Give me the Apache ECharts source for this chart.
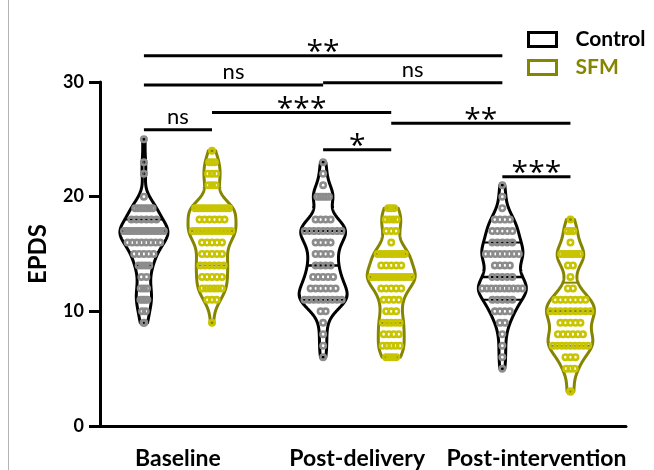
<!DOCTYPE html>
<html><head><meta charset="utf-8">
<script src="https://cdn.jsdelivr.net/npm/echarts@6/dist/echarts.min.js"></script>
<style>html,body{margin:0;padding:0;background:#fff}#c{width:654px;height:470px}</style>
</head><body><div id="c"></div>
<script>
// ---------------- data ----------------
const categories = ['Baseline', 'Post-delivery', 'Post-intervention'];
const groups = ['Control', 'SFM'];
const yTicks = [0, 10, 20, 30];

// EPDS score levels and number of participants at each level
const controlBaselineScores = [9,10,11,12,13,14,15,16,17,18,19,20,22,23,25];
const controlBaselineCounts = [2,2,4,3,2,4,5,8,14,6,7,1,1,1,1];
const controlDeliveryScores = [6,7,8,9,10,11,12,13,14,15,16,17,18,20,21,22,23];
const controlDeliveryCounts = [1,1,1,1,2,9,6,5,4,4,4,9,4,5,1,1,1];
const controlInterventionScores = [5,6,7,8,9,10,11,12,13,14,15,16,17,18,19,20,21];
const controlInterventionCounts = [1,1,1,1,2,4,5,10,5,4,8,5,5,4,1,1,1];
const sfmBaselineScores = [9,11,12,13,14,15,16,17,18,19,21,22,23,24];
const sfmBaselineCounts = [1,3,6,5,6,5,5,11,6,12,3,3,3,1];
const sfmDeliveryScores = [6,7,8,9,10,11,12,13,14,15,16,17,18,19];
const sfmDeliveryCounts = [4,5,4,5,3,4,5,12,5,9,1,3,4,3];
const sfmInterventionScores = [3,5,6,7,8,9,10,11,12,13,14,15,16,17,18];
const sfmInterventionCounts = [2,3,3,9,6,5,9,7,2,1,2,7,1,3,1];

// significance brackets: [category, group] endpoints, EPDS level, label
const bracketFromCat = [0, 0, 1, 0, 0, 1, 1, 2];
const bracketFromGrp = [0, 0, 0, 1, 0, 1, 0, 0];
const bracketToCat   = [2, 1, 2, 1, 0, 2, 1, 2];
const bracketToGrp   = [0, 0, 0, 1, 1, 1, 1, 1];
const bracketLevel   = [32.3, 29.74, 29.94, 27.33, 25.83, 26.41, 24.09, 21.74];
const bracketLabel   = ['**', 'ns', 'ns', '***', 'ns', '**', '*', '***'];

// ---------------- styles / layout ----------------
const groupOffset = [-0.19, 0.19];
const lineColor = ['#000000', '#858500'];
const dotColor = ['#8c8c8c', '#c8c400'];
const legendTextColor = ['#000000', '#858500'];
const violinHalfWidth = 24;
const bandwidth = 0.9;
const maxDotSpacing = 5;
const dotR = 2.7, dotLW = 2.6;
const FONT = 'Lato, "Open Sans", sans-serif';
const STAR_FONT = '"Open Sans", Lato, sans-serif';

const table = [
  [[controlBaselineScores, controlBaselineCounts], [controlDeliveryScores, controlDeliveryCounts], [controlInterventionScores, controlInterventionCounts]],
  [[sfmBaselineScores, sfmBaselineCounts], [sfmDeliveryScores, sfmDeliveryCounts], [sfmInterventionScores, sfmInterventionCounts]]
];

function quantile(scores, counts, p) {
  const arr = [];
  scores.forEach((s, i) => { for (let k = 0; k < counts[i]; k++) arr.push(s); });
  const pos = p * (arr.length + 1) - 1;
  const lo = Math.max(0, Math.min(arr.length - 1, Math.floor(pos)));
  const hi = Math.max(0, Math.min(arr.length - 1, Math.ceil(pos)));
  return arr[lo] + (arr[hi] - arr[lo]) * (pos - Math.floor(pos));
}

const violins = table.map(gr => gr.map(([scores, counts]) => {
  const dens = y => { let s = 0; for (let i = 0; i < scores.length; i++) s += counts[i] * Math.exp(-0.5 * Math.pow((y - scores[i]) / bandwidth, 2)); return s; };
  const min = Math.min(...scores), max = Math.max(...scores);
  let dmax = 0;
  for (let y = min; y <= max + 1e-9; y += 0.05) dmax = Math.max(dmax, dens(y));
  return {
    scores, counts, min, max,
    hw: y => violinHalfWidth * dens(y) / dmax,
    quart: [quantile(scores, counts, 0.25), quantile(scores, counts, 0.5), quantile(scores, counts, 0.75)]
  };
}));

function violinSeries(g) {
  return {
    type: 'custom', name: groups[g], z: 2, clip: false,
    itemStyle: { color: '#fff', borderColor: lineColor[g] },
    data: categories.map((c, ci) => [ci + 1 + groupOffset[g], ci]),
    renderItem(params, api) {
      const ci = api.value(1);
      const v = violins[g][ci];
      const x = api.value(0);
      const right = [], left = [];
      for (let y = v.min; y <= v.max + 1e-9; y += 0.05) {
        const p = api.coord([x, y]);
        const hw = v.hw(y);
        right.push([p[0] + hw, p[1]]);
        left.push([p[0] - hw, p[1]]);
      }
      const children = [{
        type: 'polygon', shape: { points: right.concat(left.reverse()) },
        style: { fill: '#fff', stroke: lineColor[g], lineWidth: 3, lineJoin: 'round' }
      }];
      v.quart.forEach((q, qi) => {
        const p = api.coord([x, q]);
        const hw = v.hw(q);
        children.push({
          type: 'line', shape: { x1: p[0] - hw, y1: p[1], x2: p[0] + hw, y2: p[1] },
          style: { stroke: lineColor[g], lineWidth: qi === 1 ? 2.5 : 2 }
        });
      });
      return { type: 'group', children };
    }
  };
}

function dotSeries(g) {
  const data = [];
  categories.forEach((c, ci) => {
    const [scores, counts] = table[g][ci];
    scores.forEach((s, i) => data.push([ci + 1 + groupOffset[g], s, counts[i], ci]));
  });
  return {
    type: 'custom', name: groups[g] + ' points', z: 3, clip: false, data,
    renderItem(params, api) {
      const x = api.value(0), s = api.value(1), n = api.value(2), ci = api.value(3);
      const v = violins[g][ci];
      const p = api.coord([x, s]);
      const avail = 2 * v.hw(s) - 2 * (dotR + dotLW / 2);
      const sp = n > 1 ? Math.max(0.8, Math.min(maxDotSpacing, avail / (n - 1))) : 0;
      const children = [];
      for (let k = 0; k < n; k++) {
        children.push({
          type: 'circle', shape: { cx: p[0] + (k - (n - 1) / 2) * sp, cy: p[1], r: dotR },
          style: { fill: 'none', stroke: dotColor[g], lineWidth: dotLW }
        });
      }
      return { type: 'group', children };
    }
  };
}

const bracketSeries = {
  type: 'custom', name: 'significance', z: 4, clip: false, silent: true,
  data: bracketLabel.map((l, i) => [
    bracketFromCat[i] + 1 + groupOffset[bracketFromGrp[i]],
    bracketToCat[i] + 1 + groupOffset[bracketToGrp[i]],
    bracketLevel[i], i]),
  renderItem(params, api) {
    const a = api.coord([api.value(0), api.value(2)]);
    const b = api.coord([api.value(1), api.value(2)]);
    const label = bracketLabel[api.value(3)];
    const star = label !== 'ns';
    return {
      type: 'group', children: [
        { type: 'line', shape: { x1: a[0], y1: a[1], x2: b[0], y2: b[1] }, style: { stroke: '#000', lineWidth: 3 } },
        { type: 'text', style: {
            text: label, x: (a[0] + b[0]) / 2, y: a[1] - (star ? 3 : 13),
            align: 'center', verticalAlign: 'middle',
            fontSize: star ? 30 : 22, fontFamily: star ? STAR_FONT : FONT, fill: '#000' } }
      ]
    };
  }
};

const chart = echarts.init(document.getElementById('c'), null, { renderer: 'canvas' });
chart.setOption({
  animation: false,
  backgroundColor: '#fff',
  grid: { left: 100, right: 28, top: 82, bottom: 43 },
  legend: {
    orient: 'vertical', left: 522, top: 24, itemWidth: 28, itemHeight: 14, itemGap: 7,
    icon: 'rect', selectedMode: false,
    textStyle: { fontFamily: FONT, fontWeight: 'bold', fontSize: 21, lineHeight: 20, padding: [0, 0, 0, 14] },
    data: groups.map((name, g) => ({
      name,
      itemStyle: { color: 'rgba(0,0,0,0)', borderColor: lineColor[g], borderWidth: 3 },
      textStyle: { color: legendTextColor[g] }
    }))
  },
  xAxis: {
    type: 'value', min: 0.565, max: 3.5,
    splitLine: { show: false },
    axisLine: { show: true, lineStyle: { color: '#000', width: 3 } },
    axisTick: { show: false },
    axisLabel: {
      customValues: [1, 2, 3],
      formatter: v => categories[Math.round(v) - 1] || '',
      fontFamily: FONT, fontWeight: 'bold', fontSize: 23, color: '#000', margin: 21
    }
  },
  yAxis: {
    type: 'value', min: 0, max: 30, interval: 10,
    name: 'EPDS', nameLocation: 'middle', nameGap: 50,
    nameTextStyle: { fontFamily: FONT, fontWeight: 'bold', fontSize: 24, color: '#000' },
    splitLine: { show: false },
    axisLine: { show: true, lineStyle: { color: '#000', width: 3 } },
    axisTick: { show: true, length: 11, lineStyle: { color: '#000', width: 3 } },
    axisLabel: {
      formatter: v => yTicks.includes(v) ? String(v) : '',
      fontFamily: FONT, fontWeight: 'bold', fontSize: 18, color: '#000', margin: 16
    }
  },
  graphic: [{ type: 'line', shape: { x1: 8.5, y1: 0, x2: 8.5, y2: 470 }, style: { stroke: '#b4b4b4', lineWidth: 1 }, silent: true }],
  series: [violinSeries(0), violinSeries(1), dotSeries(0), dotSeries(1), bracketSeries]
});
</script></body></html>
